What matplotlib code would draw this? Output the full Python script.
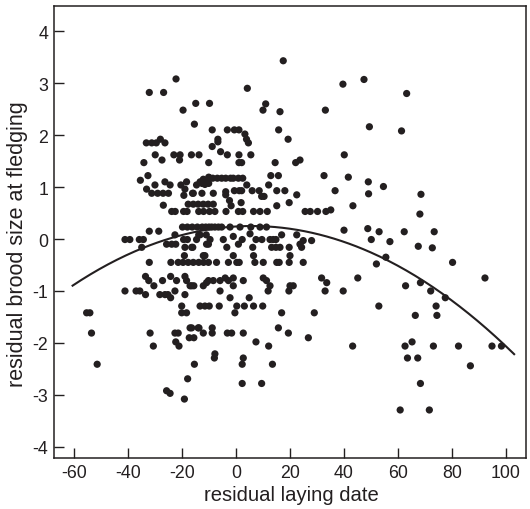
import numpy as np
import matplotlib
matplotlib.use("Agg")
import matplotlib.pyplot as plt

plt.rcParams['font.family'] = ['Liberation Sans', 'DejaVu Sans']

# (residual laying date, residual brood size)
points_upper = [
    (17.5, 3.43), (-22.2, 3.08), (47.4, 3.07), (39.6, 2.98), (4.2, 2.90),
    (-32.1, 2.82), (-26.8, 2.82), (63.2, 2.80),
    (-14.9, 2.61), (-9.8, 2.61), (11.0, 2.60),
    (-19.6, 2.48), (10.0, 2.48), (33.1, 2.48), (16.3, 2.45),
    (-15.4, 2.21), (49.4, 2.16),
    (-8.8, 2.10), (-3.2, 2.10), (-0.6, 2.10), (1.1, 2.10), (15.8, 2.10), (61.3, 2.08),
    (3.3, 2.02),
    (3.9, 1.92), (-6.7, 1.92), (19.3, 1.92), (-28.0, 1.92),
    (-33.2, 1.85), (-31.2, 1.85), (-29.5, 1.85), (-26.3, 1.85), (4.6, 1.85), (-6.7, 1.87),
    (-8.8, 1.78), (-5.7, 1.68),
    (-29.9, 1.62), (-23.0, 1.62), (-20.7, 1.62), (-16.5, 1.62), (-13.7, 1.62),
    (-3.2, 1.62), (1.1, 1.62), (5.5, 1.62), (40.1, 1.62),
    (-27.4, 1.52), (-20.9, 1.52), (23.7, 1.52),
    (-34.1, 1.47), (-10.1, 1.47), (1.1, 1.47), (2.1, 1.47), (14.5, 1.47), (22.1, 1.47),
]

points_mid_high = [
    (-32.6, 1.22), (32.6, 1.22), (12.9, 1.22), (15.7, 1.22),
    (-10.1, 1.19), (41.6, 1.19),
    (-9.6, 1.17), (-8.6, 1.17), (-6.9, 1.17), (-5.3, 1.17), (-3.8, 1.17),
    (-2.0, 1.17), (-1.0, 1.17), (0.9, 1.17), (2.5, 1.17),
    (-35.4, 1.13), (-11.7, 1.13), (-12.1, 1.15),
    (-26.3, 1.10), (-18.3, 1.10), (-13.3, 1.10), (49.0, 1.10),
    (-12.6, 1.07), (-10.1, 1.07),
    (-30.0, 1.04), (-24.4, 1.04), (-20.4, 1.04), (-14.6, 1.04), (4.0, 1.04), (12.1, 1.04),
    (-11.5, 1.05), (54.6, 1.01),
    (-33.1, 0.96), (-18.9, 0.96),
    (-0.6, 0.93), (1.2, 0.93), (2.1, 0.93), (6.0, 0.93), (8.6, 0.93), (15.1, 0.93),
    (18.1, 0.93), (36.7, 0.93), (-3.8, 0.91),
    (-31.2, 0.88), (-29.0, 0.88), (-27.0, 0.88), (-25.0, 0.88), (-15.8, 0.88),
    (-12.6, 0.88), (-16.1, 0.88), (-8.4, 0.88),
    (-19.3, 0.84), (-3.8, 0.85), (22.5, 0.85), (49.1, 0.87), (68.5, 0.86),
    (9.5, 0.82), (10.4, 0.82),
    (1.9, 0.70), (19.7, 0.70), (-2.4, 0.74),
    (-17.7, 0.67), (-15.8, 0.67), (-14.0, 0.67), (-12.1, 0.67), (-10.3, 0.67), (-8.4, 0.67),
    (-26.9, 0.65), (-1.8, 0.64), (15.1, 0.64), (43.3, 0.64),
    (-23.8, 0.53), (-22.5, 0.53), (-19.4, 0.53), (-18.1, 0.53), (-13.8, 0.53),
    (-12.0, 0.53), (-9.8, 0.53), (-7.8, 0.53), (-3.7, 0.53), (0.9, 0.53),
    (2.5, 0.53), (6.5, 0.53), (8.9, 0.53), (11.6, 0.53), (25.6, 0.53),
    (27.5, 0.53), (30.2, 0.53), (33.3, 0.53), (35.1, 0.56), (68.1, 0.48),
]

points_middle = [
    (-19.8, 0.23), (-18.0, 0.23), (-16.2, 0.23), (-14.3, 0.23), (-12.5, 0.23),
    (-11.2, 0.23), (-10.0, 0.23), (-9.0, 0.23), (-7.8, 0.23), (-6.5, 0.23),
    (-5.3, 0.23), (-2.2, 0.23), (1.5, 0.23), (5.5, 0.23), (8.9, 0.23), (11.3, 0.23),
    (40.0, 0.17), (48.8, 0.20),
    (-32.1, 0.15), (-28.6, 0.15), (53.0, 0.14), (62.3, 0.14), (73.4, 0.14),
    (-22.6, 0.08), (-13.8, 0.08), (-11.0, 0.08), (-13.3, 0.08), (16.9, 0.08), (22.5, 0.08),
    (5.2, 0.10), (-1.0, 0.05),
    (-41.1, -0.01), (-39.3, -0.01), (-35.8, -0.01), (-34.3, -0.01), (-19.4, -0.01),
    (-18.0, -0.01), (-14.6, -0.01), (-9.6, -0.01), (-4.7, -0.01), (2.3, -0.01),
    (7.4, -0.01), (9.6, -0.01), (12.6, -0.01), (13.8, -0.01), (14.8, -0.01), (50.1, -0.01),
    (57.0, -0.05), (24.9, -0.03), (28.0, -0.03),
    (-25.7, -0.10), (-23.8, -0.10), (-22.3, -0.10), (-10.9, -0.10), (-10.2, -0.10),
    (0.9, -0.10), (23.7, -0.10),
    (-34.9, -0.16), (-18.9, -0.16), (-16.0, -0.16), (-16.4, -0.16), (-3.4, -0.16),
    (6.2, -0.16), (13.2, -0.16), (14.8, -0.16), (16.3, -0.16), (19.7, -0.16), (24.3, -0.16),
    (67.5, -0.14), (72.7, -0.17),
    (-11.5, -0.32), (-19.1, -0.32), (-12.1, -0.32), (-1.0, -0.32), (6.5, -0.32), (20.0, -0.32),
    (55.5, -0.35),
    (-32.1, -0.45), (-24.1, -0.45), (-21.4, -0.45), (-19.6, -0.45), (-17.7, -0.45),
    (-15.8, -0.45), (-13.8, -0.45), (-12.0, -0.45), (-10.2, -0.45), (-7.2, -0.45),
    (-2.8, -0.45), (0.3, -0.45), (1.2, -0.45), (7.0, -0.45), (10.1, -0.45),
    (15.1, -0.45), (16.0, -0.45), (19.7, -0.45), (24.9, -0.45), (80.2, -0.45), (52.0, -0.48),
]

points_lower = [
    (-33.5, -0.72), (-18.9, -0.72), (-24.2, -0.72),
    (-1.0, -0.75), (45.1, -0.75), (92.2, -0.75), (31.7, -0.75), (-4.0, -0.75), (10.1, -0.75),
    (-32.3, -0.80), (-27.2, -0.80), (-22.0, -0.80), (-18.3, -0.80), (-10.2, -0.80),
    (-8.4, -0.80), (-5.9, -0.80), (-2.8, -0.80), (2.7, -0.80), (11.3, -0.80),
    (-10.9, -0.84), (33.6, -0.84), (68.3, -0.84),
    (-30.4, -0.90), (-17.0, -0.90), (-15.6, -0.90), (-12.1, -0.90), (-16.4, -0.90),
    (-1.0, -0.90), (12.6, -0.90), (20.0, -0.90), (21.2, -0.90), (62.8, -0.90),
    (-41.1, -1.00), (-37.0, -1.00), (-35.6, -1.00), (-22.6, -1.00), (39.7, -1.00),
    (33.0, -1.00), (11.9, -1.00), (19.6, -1.00), (-5.9, -1.00), (72.1, -1.00),
    (-33.5, -1.07), (-28.2, -1.07), (-26.3, -1.07), (-25.2, -1.07), (-18.9, -1.07),
    (-24.2, -1.13), (-2.2, -1.13), (4.9, -1.13), (77.5, -1.13),
    (-20.1, -1.29), (-13.3, -1.29), (-11.5, -1.29), (-9.9, -1.29), (-6.2, -1.29),
    (0.3, -1.29), (3.1, -1.29), (6.5, -1.29), (9.9, -1.29), (52.9, -1.29), (74.1, -1.29),
    (-18.3, -1.42), (-20.1, -1.42), (-0.4, -1.42), (16.9, -1.42), (29.0, -1.42),
    (-55.3, -1.42), (-54.1, -1.42), (66.4, -1.47), (74.4, -1.47),
    (-17.0, -1.71), (-13.7, -1.71), (-16.4, -1.71), (-14.0, -1.71), (-8.8, -1.71), (15.7, -1.71),
    (-53.5, -1.81), (-31.8, -1.81), (-22.6, -1.81), (-21.4, -1.81), (-12.1, -1.81),
    (-8.8, -1.81), (-3.2, -1.81), (-1.6, -1.81), (2.7, -1.81), (19.4, -1.81),
    (-17.3, -1.90), (-15.6, -1.90), (26.8, -1.90),
    (-22.3, -1.98), (7.4, -1.98), (65.2, -1.98),
    (-30.6, -2.06), (-21.1, -2.06), (12.1, -2.06), (43.2, -2.06), (62.6, -2.06),
    (73.1, -2.06), (82.4, -2.06), (94.8, -2.06), (98.3, -2.06),
    (-7.8, -2.21), (-8.0, -2.29), (2.7, -2.29), (63.5, -2.29), (67.3, -2.29),
    (-51.4, -2.41), (-15.4, -2.41), (2.3, -2.41), (13.5, -2.41), (86.8, -2.44),
    (-17.9, -2.69), (2.3, -2.78), (9.5, -2.78), (68.3, -2.78),
    (-25.7, -2.92), (-24.4, -2.97), (-19.1, -3.08),
    (60.8, -3.29), (71.6, -3.29),
]

# fitted quadratic: y = peak_y - curv * (x - peak_x)^2
peak_x = 5.8
peak_y = 0.25
curv = 0.000261
curve_x_start = -60.5
curve_x_end = 103.0

x_ticks = [-60, -40, -20, 0, 20, 40, 60, 80, 100]
y_ticks = [-4, -3, -2, -1, 0, 1, 2, 3, 4]

all_pts = points_upper + points_mid_high + points_middle + points_lower
xs = np.array([p[0] for p in all_pts])
ys = np.array([p[1] for p in all_pts])

fig = plt.figure(figsize=(5.3, 5.1), dpi=100)
ax = fig.add_axes([0.1013, 0.0994, 0.8912, 0.8875])

ax.scatter(xs, ys, s=27, color='#231f20', edgecolors='none', zorder=3)

cx = np.linspace(curve_x_start, curve_x_end, 300)
cy = peak_y - curv * (cx - peak_x) ** 2
ax.plot(cx, cy, color='#231f20', lw=1.5, zorder=4)

ax.set_xlim(-67.5, 107.4)
ax.set_ylim(-4.22, 4.49)
ax.set_xticks(x_ticks)
ax.set_yticks(y_ticks)
ax.set_xticklabels([str(t) for t in x_ticks])
ax.set_yticklabels([str(t) for t in y_ticks])
ax.tick_params(direction='in', length=7, width=1.0, labelsize=12.8, color='#231f20',
               labelcolor='#231f20', pad=4)
for s in ax.spines.values():
    s.set_linewidth(1.1)
    s.set_color('#231f20')

ax.set_xlabel('residual laying date', fontsize=14.6, color='#231f20')
ax.set_ylabel('residual brood size at fledging', fontsize=15.5, color='#231f20')
ax.xaxis.set_label_coords(0.5035, -0.058)
ax.yaxis.set_label_coords(-0.077, 0.475)
ax.yaxis.label.set_verticalalignment('center')

fig.savefig('out.png', dpi=100)
